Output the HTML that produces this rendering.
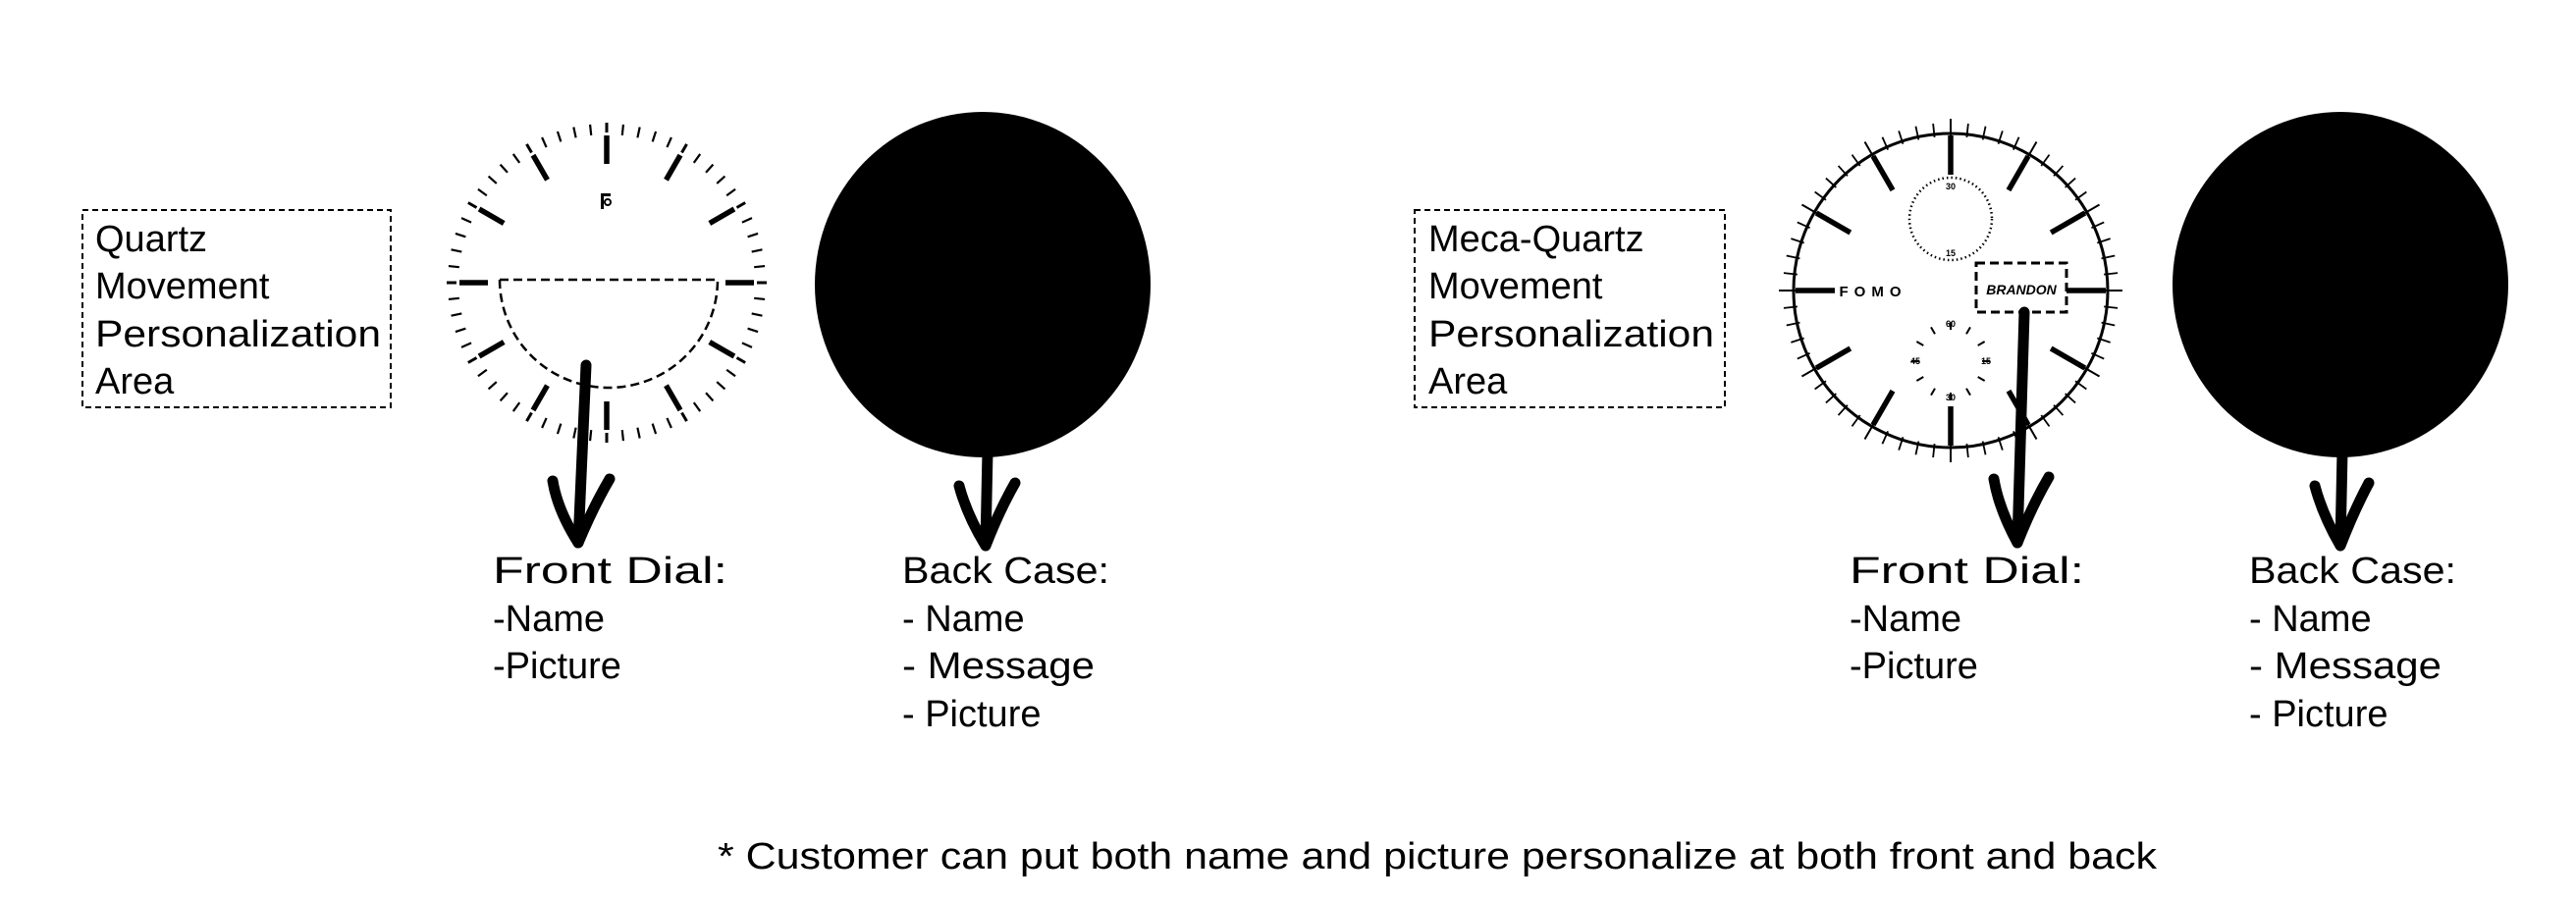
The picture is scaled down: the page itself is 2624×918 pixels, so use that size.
<!DOCTYPE html>
<html><head><meta charset="utf-8"><style>
html,body{margin:0;padding:0;background:#fff;}
svg{display:block;}
text{font-family:"Liberation Sans",sans-serif;fill:#000;}
</style></head><body>
<svg width="2624" height="918" viewBox="0 0 2624 918" xmlns="http://www.w3.org/2000/svg">
<!-- Left box -->
<rect x="84" y="214" width="314" height="201" fill="none" stroke="#000" stroke-width="2" stroke-dasharray="6,4"/>
<g font-size="38">
<text x="97" y="256">Quartz</text>
<text x="97" y="304">Movement</text>
<text x="97" y="353" textLength="291" lengthAdjust="spacingAndGlyphs">Personalization</text>
<text x="97" y="401">Area</text>
</g>
<!-- Right box -->
<rect x="1441" y="214" width="316" height="201" fill="none" stroke="#000" stroke-width="2" stroke-dasharray="6,4"/>
<g font-size="38">
<text x="1455" y="256">Meca-Quartz</text>
<text x="1455" y="304">Movement</text>
<text x="1455" y="353" textLength="291" lengthAdjust="spacingAndGlyphs">Personalization</text>
<text x="1455" y="401">Area</text>
</g>

<!-- Left clock -->
<g id="lc" transform="translate(618,288)" stroke="#000"></g>
<path d="M509,285 L731,285 A111,110 0 0 1 509,285 Z" fill="none" stroke="#000" stroke-width="2.5" stroke-dasharray="9,5"/>
<rect x="612" y="197" width="3" height="16" fill="#000"/>
<rect x="612" y="197" width="10" height="3" fill="#000"/>
<circle cx="619" cy="206" r="3" fill="none" stroke="#000" stroke-width="2"/>

<!-- Left back -->
<ellipse cx="1001" cy="290" rx="171" ry="176" fill="#000"/>

<!-- Right clock -->
<g id="rc" transform="translate(1987,296)" stroke="#000"></g>
<circle cx="1987" cy="296" r="160" fill="none" stroke="#000" stroke-width="3"/>
<circle cx="1987" cy="223" r="42" fill="none" stroke="#000" stroke-width="2.5" stroke-dasharray="1.5,3"/>
<g font-size="9" font-weight="bold" text-anchor="middle">
<text x="1987" y="193">30</text><text x="1987" y="261">15</text>
<text x="1987" y="333">60</text><text x="1987" y="408">30</text>
<text x="1951" y="371">45</text><text x="2023" y="371">15</text>
</g>
<text x="1908" y="302" font-size="15" font-weight="bold" letter-spacing="6" text-anchor="middle">FOMO</text>
<rect x="2013" y="268" width="92" height="50" fill="#fff" stroke="#000" stroke-width="3" stroke-dasharray="9,5"/>
<text x="2059" y="300" font-size="14" font-style="italic" font-weight="bold" text-anchor="middle" font-family="Liberation Serif">BRANDON</text>

<!-- Right back -->
<ellipse cx="2384" cy="290" rx="171" ry="176" fill="#000"/>

<!-- Arrows -->
<g fill="none" stroke="#000" stroke-width="11" stroke-linecap="round" stroke-linejoin="round">
<path d="M597,372 L589,553"/>
<path d="M563,490 Q568,520 589,553 Q605,515 621,488"/>
<path d="M1006,460 L1004,555"/>
<path d="M977,495 Q985,525 1004,556 Q1018,520 1034,492"/>
<path d="M2062,318 L2055,553"/>
<path d="M2031,488 Q2036,518 2055,553 Q2070,515 2087,486"/>
<path d="M2386,460 L2384,555"/>
<path d="M2358,495 Q2366,525 2384,556 Q2398,520 2413,492"/>
</g>

<!-- Labels -->
<g font-size="38">
<text x="502" y="594" textLength="239" lengthAdjust="spacingAndGlyphs">Front Dial:</text>
<text x="502" y="643">-Name</text>
<text x="502" y="691">-Picture</text>
<text x="919" y="594" textLength="211" lengthAdjust="spacingAndGlyphs">Back Case:</text>
<text x="919" y="643">- Name</text>
<text x="919" y="691" textLength="196" lengthAdjust="spacingAndGlyphs">- Message</text>
<text x="919" y="740">- Picture</text>
<text x="1884" y="594" textLength="239" lengthAdjust="spacingAndGlyphs">Front Dial:</text>
<text x="1884" y="643">-Name</text>
<text x="1884" y="691">-Picture</text>
<text x="2291" y="594" textLength="211" lengthAdjust="spacingAndGlyphs">Back Case:</text>
<text x="2291" y="643">- Name</text>
<text x="2291" y="691" textLength="196" lengthAdjust="spacingAndGlyphs">- Message</text>
<text x="2291" y="740">- Picture</text>
</g>
<text x="731" y="885" font-size="38" textLength="1466" lengthAdjust="spacingAndGlyphs">* Customer can put both name and picture personalize at both front and back</text>
</svg>
<script>
(function(){
var ns="http://www.w3.org/2000/svg";
function line(g,x1,y1,x2,y2,w){var l=document.createElementNS(ns,"line");l.setAttribute("x1",x1);l.setAttribute("y1",y1);l.setAttribute("x2",x2);l.setAttribute("y2",y2);l.setAttribute("stroke-width",w);g.appendChild(l);}
var lc=document.getElementById("lc"),rc=document.getElementById("rc");
for(var i=0;i<60;i++){
 var a=i*Math.PI/30,s=Math.sin(a),c=-Math.cos(a);
 if(i%5==0){
  line(lc,s*121,c*121,s*150,c*150,5.5);
  line(lc,s*153,c*153,s*163,c*163,3);
  line(rc,s*118,c*118,s*158,c*158,5.5);
  line(rc,s*150,c*150,s*175,c*175,2);
 } else {
  line(lc,s*151,c*151,s*162,c*162,2.2);
  line(rc,s*157,c*157,s*171,c*171,1.8);
 }
}
var sub=document.createElementNS(ns,"g");sub.setAttribute("stroke","#000");sub.setAttribute("transform","translate(1987,368)");
document.querySelector("svg").appendChild(sub);
for(var j=0;j<12;j++){var b=j*Math.PI/6;line(sub,Math.sin(b)*32,-Math.cos(b)*32,Math.sin(b)*40,-Math.cos(b)*40,2);}
})();
</script>
</body></html>
